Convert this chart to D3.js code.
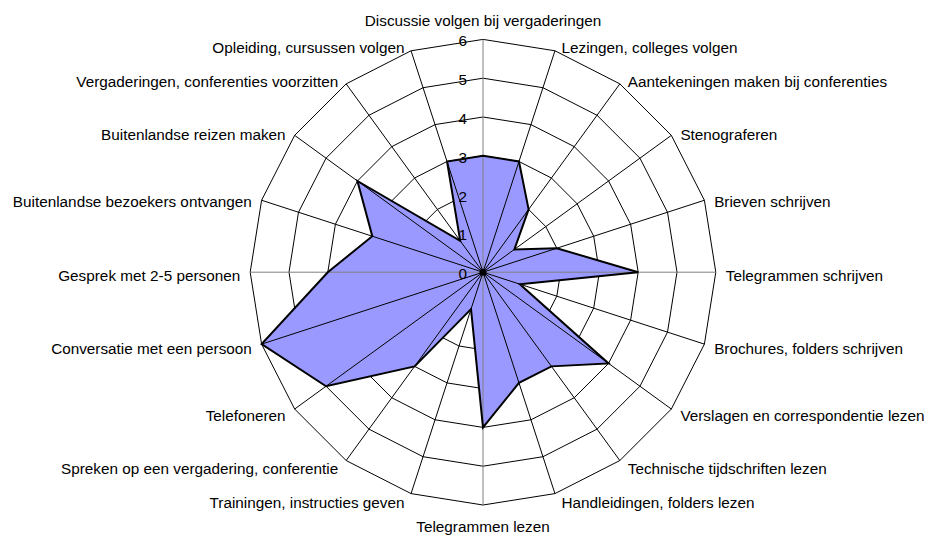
<!DOCTYPE html>
<html>
<head>
<meta charset="utf-8">
<script src="https://cdn.jsdelivr.net/npm/d3@7"></script>
<style>
  body { margin: 0; background: #fff; }
  svg text { font-family: Arial, "Liberation Sans", sans-serif; font-size: 15.3px; fill: #000; }
</style>
</head>
<body>
<svg id="chart" width="928" height="535"></svg>
<script>
const categories = [
  "Discussie volgen bij vergaderingen",
  "Lezingen, colleges volgen",
  "Aantekeningen maken bij conferenties",
  "Stenograferen",
  "Brieven schrijven",
  "Telegrammen schrijven",
  "Brochures, folders schrijven",
  "Verslagen en correspondentie lezen",
  "Technische tijdschriften lezen",
  "Handleidingen, folders lezen",
  "Telegrammen lezen",
  "Trainingen, instructies geven",
  "Spreken op een vergadering, conferentie",
  "Telefoneren",
  "Conversatie met een persoon",
  "Gesprek met 2-5 personen",
  "Buitenlandse bezoekers ontvangen",
  "Buitenlandse reizen maken",
  "Vergaderingen, conferenties voorzitten",
  "Opleiding, cursussen volgen"
];
const values = [3, 3, 2, 1, 2, 4, 1, 4, 3, 3, 4, 1, 3, 5, 6, 4, 3, 4, 1, 3];
const ticks = [0, 1, 2, 3, 4, 5, 6];

const svg = d3.select("#chart");
const cx = 483, cy = 272.2;
const R = 232.8;

const r = d3.scaleLinear().domain([0, 6]).range([0, R]);
const angle = d3.scaleLinear().domain([0, categories.length]).range([0, 2 * Math.PI]);

function pt(i, v) {
  const a = angle(i);
  return [cx + r(v) * Math.sin(a), cy - r(v) * Math.cos(a)];
}

const g = svg.append("g");

// grid rings
ticks.filter((t) => t > 0).forEach((t) => {
  g.append("polygon")
    .attr("points", categories.map((c, i) => pt(i, t).join(",")).join(" "))
    .attr("fill", "none")
    .attr("stroke", "#000")
    .attr("stroke-width", 1);
});

// data area
g.append("polygon")
  .attr("points", values.map((v, i) => pt(i, v).join(",")).join(" "))
  .attr("fill", "#9999ff")
  .attr("stroke", "none");

// spokes
categories.forEach((c, i) => {
  const [x, y] = pt(i, 6);
  g.append("line")
    .attr("x1", cx).attr("y1", cy)
    .attr("x2", x).attr("y2", y)
    .attr("stroke", i % 5 === 0 ? "#808080" : "#000")
    .attr("stroke-width", 1);
});

// outline
g.append("polygon")
  .attr("points", values.map((v, i) => pt(i, v).join(",")).join(" "))
  .attr("fill", "none")
  .attr("stroke", "#000")
  .attr("stroke-width", 2)
  .attr("stroke-linejoin", "miter");

g.append("circle")
  .attr("cx", cx).attr("cy", cy).attr("r", 3.5)
  .attr("fill", "#000");

// tick labels
g.selectAll(".tick")
  .data(ticks)
  .join("text")
  .attr("class", "tick")
  .attr("x", cx - 16)
  .attr("y", (d) => cy - r(d) + 7)
  .attr("text-anchor", "end")
  .text((d) => d);

// category labels
g.selectAll(".cat")
  .data(categories)
  .join("text")
  .attr("class", "cat")
  .each(function (d, i) {
    const a = angle(i);
    const s = Math.sin(a), co = Math.cos(a);
    const [vx, vy] = pt(i, 6);
    const t = d3.select(this);
    let x = vx, y = vy, anchor = "middle";
    if (Math.abs(s) < 0.01) {
      y = co > 0 ? vy - 19 : vy + 22;
    } else {
      const dx = 5 + 5 * Math.abs(s);
      x = s > 0 ? vx + dx : vx - dx;
      anchor = s > 0 ? "start" : "end";
      y = vy + 3 - 6 * co;
    }
    t.attr("x", x).attr("y", y)
      .attr("dy", "0.35em")
      .attr("text-anchor", anchor)
      .text(d);
  });
</script>
</body>
</html>
